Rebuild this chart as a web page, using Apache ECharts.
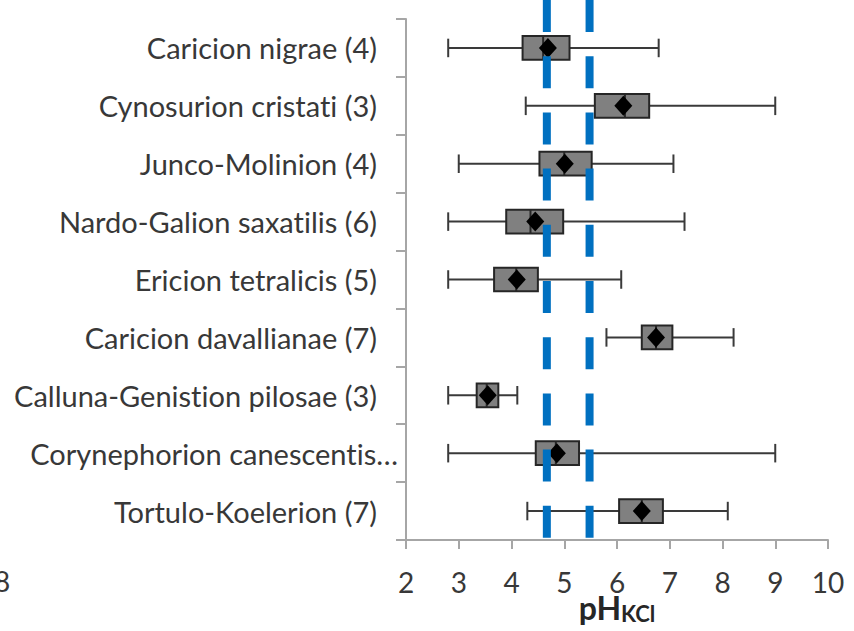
<!DOCTYPE html>
<html>
<head>
<meta charset="utf-8">
<script src="https://cdn.jsdelivr.net/npm/echarts@6/dist/echarts.min.js"></script>
<style>
  html, body { margin: 0; padding: 0; background: #fff; }
  #chart { width: 854px; height: 631px; }
  #chart text { font-variant-ligatures: none; font-feature-settings: "liga" 0, "clig" 0; }
</style>
</head>
<body>
<div id="chart"></div>
<script>
// Plant alliances (number of relevés in brackets)
const categories = [
  'Caricion nigrae (4)',
  'Cynosurion cristati (3)',
  'Junco-Molinion (4)',
  'Nardo-Galion saxatilis (6)',
  'Ericion tetralicis (5)',
  'Caricion davallianae (7)',
  'Calluna-Genistion pilosae (3)',
  'Corynephorion canescentis…',
  'Tortulo-Koelerion (7)'
];

// pH(KCl) summary per alliance
const minValues    = [2.8, 4.27, 3.0, 2.8, 2.8, 5.8, 2.8, 2.8, 4.3];
const q1Values     = [4.21, 5.58, 4.53, 3.90, 3.67, 6.47, 3.34, 4.46, 6.04];
const medianValues = [4.60, 6.15, 5.00, 4.36, 4.09, 6.74, 3.53, 4.84, 6.47];
const q3Values     = [5.10, 6.61, 5.52, 4.98, 4.50, 7.05, 3.75, 5.28, 6.87];
const maxValues    = [6.79, 9.0, 7.07, 7.28, 6.08, 8.21, 4.11, 9.0, 8.10];
const meanValues   = [4.69, 6.12, 5.01, 4.45, 4.10, 6.74, 3.55, 4.86, 6.47];

// Optimum pH range bounds (dashed reference lines)
const rangeBounds = [4.67, 5.48];

// x-axis scale
const xMin = 2, xMax = 10, xStep = 1;

const FONT = 'Lato';
const TEXT = '#383838';
const AXIS = '#a6a6a6';

const boxData = categories.map((c, i) =>
  [i, minValues[i], q1Values[i], medianValues[i], q3Values[i], maxValues[i]]);
const meanData = categories.map((c, i) => [meanValues[i], i]);

function renderBox(params, api) {
  const cat = api.value(0);
  const pMin = api.coord([api.value(1), cat]);
  const pQ1  = api.coord([api.value(2), cat]);
  const pMed = api.coord([api.value(3), cat]);
  const pQ3  = api.coord([api.value(4), cat]);
  const pMax = api.coord([api.value(5), cat]);
  const y = pMin[1];
  const band = api.size([0, 1])[1];
  const hb = band * 0.205;   // half box height
  const hc = band * 0.16;    // half whisker-cap height
  const wStyle = { stroke: '#3a3a3a', lineWidth: 2 };
  return {
    type: 'group',
    children: [
      { type: 'line', shape: { x1: pMin[0], y1: y, x2: pMax[0], y2: y }, style: wStyle },
      { type: 'line', shape: { x1: pMin[0], y1: y - hc, x2: pMin[0], y2: y + hc }, style: wStyle },
      { type: 'line', shape: { x1: pMax[0], y1: y - hc, x2: pMax[0], y2: y + hc }, style: wStyle },
      { type: 'rect', shape: { x: pQ1[0], y: y - hb, width: pQ3[0] - pQ1[0], height: 2 * hb },
        style: { fill: '#808080', stroke: '#262626', lineWidth: 2 } },
      { type: 'line', shape: { x1: pMed[0], y1: y - hb, x2: pMed[0], y2: y + hb },
        style: { stroke: '#262626', lineWidth: 2 } }
    ]
  };
}

const longLabel = categories[7];

const chart = echarts.init(document.getElementById('chart'), null, { renderer: 'svg' });
chart.setOption({
  animation: false,
  backgroundColor: '#ffffff',
  grid: [
    { left: 406, right: 26, top: 19, bottom: 91, outerBoundsMode: 'none', containLabel: false },
    { left: 406, right: 26, top: 0, bottom: 91, outerBoundsMode: 'none', containLabel: false }
  ],
  xAxis: [
    {
      type: 'value', gridIndex: 0, min: xMin, max: xMax, interval: xStep,
      name: '{a|pH}{b|KCl}',
      nameLocation: 'middle',
      nameGap: 50,
      nameMoveOverlap: false,
      nameTextStyle: {
        rich: {
          a: { fontFamily: FONT, fontWeight: 'bold', fontSize: 32, color: '#262626' },
          b: { fontFamily: FONT, fontWeight: 'bold', fontSize: 22, color: '#262626', padding: [12, 0, 0, 0] }
        }
      },
      axisLine: { show: true, lineStyle: { color: AXIS, width: 2 } },
      axisTick: { show: true, length: 9, lineStyle: { color: AXIS, width: 2 } },
      axisLabel: { fontFamily: FONT, fontSize: 28, color: TEXT, margin: 28 },
      splitLine: { show: false }
    },
    {
      type: 'value', gridIndex: 1, min: xMin, max: xMax, show: false
    }
  ],
  yAxis: [
    {
      type: 'category', gridIndex: 0, data: categories, inverse: true,
      axisLine: { show: true, lineStyle: { color: AXIS, width: 2 } },
      axisTick: { show: true, length: 10, lineStyle: { color: AXIS, width: 2 } },
      axisLabel: {
        margin: 8,
        formatter: v => (v === longLabel ? '{e|' + v + '}' : '{n|' + v + '}'),
        rich: {
          n: { fontFamily: FONT, fontSize: 29, color: TEXT, padding: [0, 21, 0, 0] },
          e: { fontFamily: FONT, fontSize: 29, color: TEXT }
        }
      },
      splitLine: { show: false }
    },
    {
      type: 'value', gridIndex: 1, min: 0, max: 1, show: false
    }
  ],
  series: [
    {
      type: 'custom',
      xAxisIndex: 0, yAxisIndex: 0,
      renderItem: renderBox,
      encode: { x: [1, 2, 3, 4, 5], y: 0 },
      data: boxData,
      z: 2
    },
    {
      type: 'scatter',
      xAxisIndex: 0, yAxisIndex: 0,
      symbol: 'diamond',
      symbolSize: [18, 20],
      itemStyle: { color: '#000000', opacity: 1 },
      data: meanData,
      z: 3
    },
    ...rangeBounds.map(b => ({
      type: 'line',
      xAxisIndex: 1, yAxisIndex: 1,
      data: [[b, 1], [b, 0]],
      symbol: 'none',
      lineStyle: { color: '#0070c0', width: 8, type: [32, 24.2], cap: 'butt' },
      z: 4
    }))
  ],
  graphic: [
    { type: 'text', left: -6, top: 567,
      style: { text: '8', fontFamily: FONT, fontSize: 28, fill: TEXT } }
  ]
});
</script>
</body>
</html>
